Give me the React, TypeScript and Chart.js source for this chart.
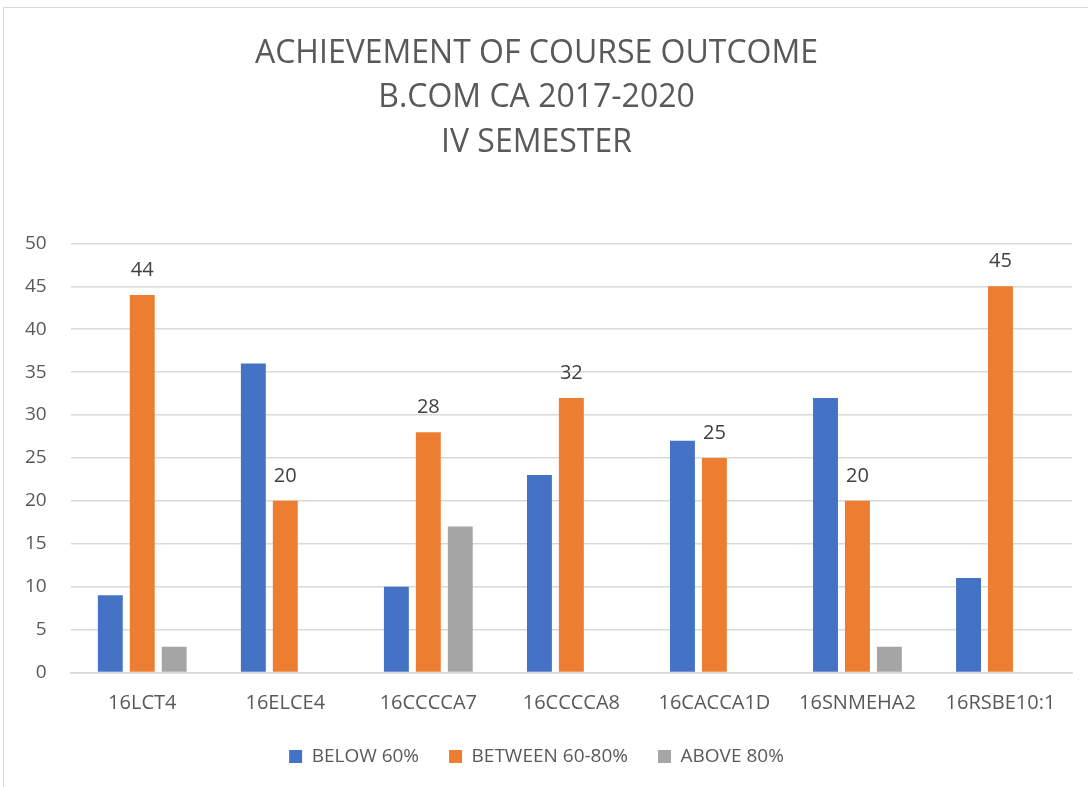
import React, { useEffect, useRef } from "react";
import { Chart, registerables } from "chart.js";

Chart.register(...registerables);

const categories = ["16LCT4", "16ELCE4", "16CCCCA7", "16CCCCA8", "16CACCA1D", "16SNMEHA2", "16RSBE10:1"];
const below60 = [9, 36, 10, 23, 27, 32, 11];
const between60to80 = [44, 20, 28, 32, 25, 20, 45];
const above80 = [3, null, 17, null, null, 3, null];
const titleLines = ["ACHIEVEMENT OF COURSE OUTCOME", "B.COM CA 2017-2020", "IV SEMESTER"];
const yTicks = [0, 5, 10, 15, 20, 25, 30, 35, 40, 45, 50];

const FONT = "'Open Sans', 'DejaVu Sans', sans-serif";

const labelPlugin = {
  id: "orangeLabels",
  afterDatasetsDraw(chart: any) {
    const ctx = chart.ctx;
    const meta = chart.getDatasetMeta(1);
    ctx.save();
    ctx.font = `20px ${FONT}`;
    ctx.fillStyle = "#404040";
    ctx.textAlign = "center";
    ctx.textBaseline = "middle";
    meta.data.forEach((bar: any, i: number) => {
      const v = between60to80[i];
      if (v == null) return;
      ctx.fillText(String(v), bar.x, bar.y - 25);
    });
    ctx.restore();
  },
};

export default function App() {
  const ref = useRef<HTMLCanvasElement>(null);
  useEffect(() => {
    if (!ref.current) return;
    const chart = new Chart(ref.current, {
      type: "bar",
      data: {
        labels: categories,
        datasets: [
          { label: "BELOW 60%", data: below60, backgroundColor: "#4472C4" },
          { label: "BETWEEN 60-80%", data: between60to80, backgroundColor: "#ED7D31" },
          { label: "ABOVE 80%", data: above80 as any, backgroundColor: "#A5A5A5" },
        ],
      },
      options: {
        responsive: false,
        animation: false,
        devicePixelRatio: 1,
        layout: { padding: { left: 1, right: 16, top: 31, bottom: 11 } },
        datasets: { bar: { categoryPercentage: 0.67, barPercentage: 0.78 } },
        plugins: {
          title: {
            display: true,
            text: titleLines,
            color: "#595959",
            font: { family: FONT, size: 32, weight: "normal", lineHeight: 1.4 },
            padding: { top: 0, bottom: 78 },
          },
          legend: {
            position: "bottom",
            labels: {
              color: "#595959",
              font: { family: FONT, size: 19 },
              boxWidth: 13,
              boxHeight: 13,
              padding: 30,
            },
          },
          tooltip: { enabled: false },
        },
        scales: {
          x: {
            grid: { display: false, drawTicks: false },
            border: { color: "#D9D9D9", width: 1.5 },
            ticks: { color: "#595959", font: { family: FONT, size: 20 }, padding: 19 },
            afterFit: (scale: any) => {
              scale.height = 44.5;
            },
          },
          y: {
            min: 0,
            max: 50,
            afterBuildTicks: (scale: any) => {
              scale.ticks = yTicks.map((v) => ({ value: v }));
            },
            grid: { color: "#D9D9D9", lineWidth: 1.5, drawTicks: false },
            border: { display: false },
            ticks: { color: "#595959", font: { family: FONT, size: 19 }, padding: 24 },
          },
        },
      },
      plugins: [labelPlugin],
    });
    return () => chart.destroy();
  }, []);
  return (
    <div style={{ position: "fixed", left: 0, top: 0, width: 1088, height: 787, overflow: "hidden", background: "#fff" }}>
      <div
        style={{
          position: "absolute",
          left: 3,
          top: 7,
          width: 1200,
          height: 900,
          borderTop: "1px solid #D9D9D9",
          borderLeft: "1px solid #D9D9D9",
        }}
      />
      <canvas ref={ref} width={1088} height={787} style={{ position: "absolute", left: 0, top: 0 }} />
    </div>
  );
}
